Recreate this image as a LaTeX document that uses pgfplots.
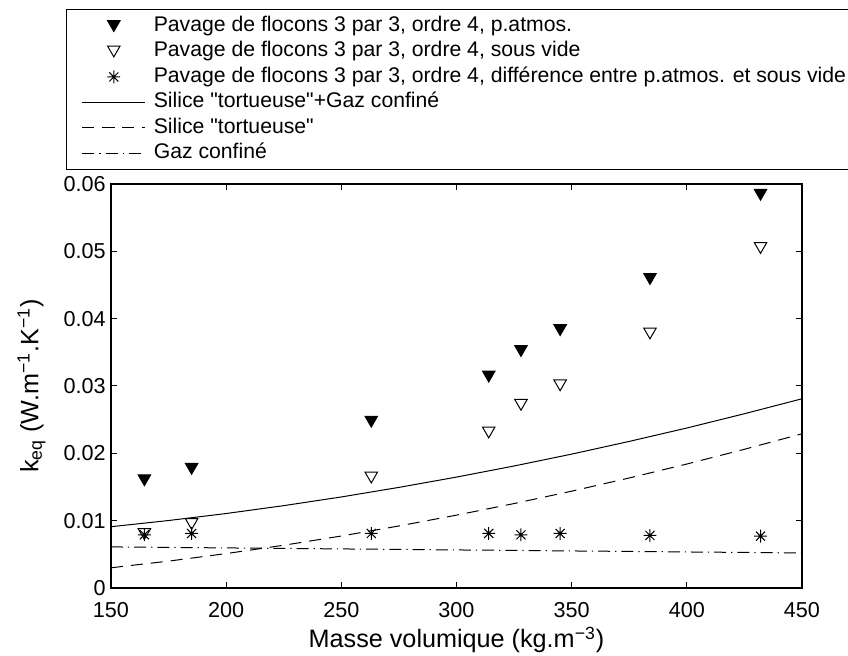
\documentclass[border=0pt]{standalone}
\usepackage{fontspec}
\setmainfont{Liberation Sans}
\newfontfamily\plainfont{Liberation Sans}
\usepackage{pgfplots}
\pgfplotsset{compat=1.18}
\pgfdeclareplotmark{ast8}{%
 \pgfpathmoveto{\pgfqpoint{0pt}{\pgfplotmarksize}}\pgfpathlineto{\pgfqpoint{0pt}{-\pgfplotmarksize}}%
 \pgfpathmoveto{\pgfqpoint{\pgfplotmarksize}{0pt}}\pgfpathlineto{\pgfqpoint{-\pgfplotmarksize}{0pt}}%
 \pgfpathmoveto{\pgfqpoint{0.7071\pgfplotmarksize}{0.7071\pgfplotmarksize}}\pgfpathlineto{\pgfqpoint{-0.7071\pgfplotmarksize}{-0.7071\pgfplotmarksize}}%
 \pgfpathmoveto{\pgfqpoint{0.7071\pgfplotmarksize}{-0.7071\pgfplotmarksize}}\pgfpathlineto{\pgfqpoint{-0.7071\pgfplotmarksize}{0.7071\pgfplotmarksize}}%
 \pgfusepathqstroke}
\begin{document}
\begin{tikzpicture}
\useasboundingbox (-55.5pt,-34pt) rectangle (368.5pt,294pt);
\begin{axis}[
 name=ax, at={(0,0)}, anchor=south west,
 scale only axis, width=345.5pt, height=202pt,
 xmin=150, xmax=450, ymin=0, ymax=0.06,
 xtick={150,200,250,300,350,400,450},
 xticklabels={150,200,250,300,350,400,450},
 ytick={0,0.01,0.02,0.03,0.04,0.05,0.06},
 yticklabels={0,0.01,0.02,0.03,0.04,0.05,0.06},
 scaled y ticks=false,
 /pgf/number format/assume math mode=true,
 tick align=inside, major tick length=3pt,
 tick style={black, line width=0.5pt},
 axis line style={line width=0.6pt},
 ticklabel style={font=\fontsize{10.8}{12}\selectfont},
 xticklabel style={inner sep=0pt, anchor=north, yshift=-7pt},
 yticklabel style={inner sep=0pt, anchor=east, xshift=-2.5pt},
 xlabel={Masse volumique (kg.m\textsuperscript{−3})},
 xlabel style={font=\fontsize{12.6}{14}\selectfont, at={(axis description cs:0.5,-0.1485)}, anchor=base},
 ylabel={k\textsubscript{eq} (W.m\textsuperscript{−1}.K\textsuperscript{−1})},
 ylabel style={font=\fontsize{12.6}{14}\selectfont, at={(axis description cs:-0.1150,0.5)}, anchor=center},
 legend image code/.code={%
   \path (0pt,0pt) (40.5pt,0pt);
   \draw[mark repeat=2,mark phase=2,#1] plot coordinates {(6pt,0pt)(21.75pt,0pt)(37.5pt,0pt)};},
 legend cell align=left,
 legend style={at={(axis description cs:-0.0648,1.4332)}, anchor=north west,
   draw=black, line width=0.6pt, inner xsep=1.5pt, inner ysep=3.15pt,
   font=\fontsize{10.6}{12}\selectfont,
   nodes={inner sep=0pt, text height=7.8pt, text depth=2.4pt},
   row sep=2.5pt, column sep=1pt},
]
\addplot[only marks, line width=0.5pt, mark=triangle*, mark size=3.6pt,
  mark options={draw=black, fill=black, rotate=180, yshift=-0.9pt}]
 coordinates {(164.5,0.0160) (185,0.0177) (263,0.0247) (314,0.0314) (328,0.0352) (345,0.0383) (384,0.0459) (432,0.0584)};
\addlegendentry{Pavage de flocons 3 par 3, ordre 4, p.atmos.}
\addplot[only marks, line width=0.5pt, mark=triangle, mark size=3.6pt,
  mark options={draw=black, rotate=180, yshift=-0.9pt}]
 coordinates {(164.5,0.0080) (185,0.0095) (263,0.0164) (314,0.0231) (328,0.0272) (345,0.0301) (384,0.0378) (432,0.0505)};
\addlegendentry{Pavage de flocons 3 par 3, ordre 4, sous vide}
\addplot[only marks, line width=0.5pt, mark=ast8, mark size=3.2pt, mark options={draw=black}]
 coordinates {(164.5,0.0079) (185,0.0081) (263,0.0081) (314,0.0081) (328,0.0079) (345,0.0081) (384,0.0078) (432,0.0077)};
\addlegendentry{Pavage de flocons 3 par 3, ordre 4, différence entre p.atmos. et sous vide}
\addplot[black, line width=0.5pt] coordinates {
 (150,0.00910) (175,0.01002) (200,0.01106) (225,0.01223) (250,0.01352) (275,0.01494) (300,0.01647)
 (325,0.01812) (350,0.01988) (375,0.02177) (400,0.02376) (425,0.02588) (450,0.02810)};
\addlegendentry{{\plainfont Silice "tortueuse"+Gaz confiné}}
\addplot[black, line width=0.5pt, dash pattern=on 6pt off 4pt] coordinates {
 (150,0.00300) (175,0.00399) (200,0.00511) (225,0.00635) (250,0.00772) (275,0.00921) (300,0.01082)
 (325,0.01254) (350,0.01438) (375,0.01634) (400,0.01841) (425,0.02060) (450,0.02290)};
\addlegendentry{{\plainfont Silice "tortueuse"}}
\addplot[black, line width=0.5pt, dash pattern=on 6pt off 2.5pt on 0.6pt off 2.5pt] coordinates {
 (150,0.00610) (175,0.00603) (200,0.00595) (225,0.00588) (250,0.00580) (275,0.00573) (300,0.00565)
 (325,0.00558) (350,0.00550) (375,0.00543) (400,0.00535) (425,0.00528) (450,0.00520)};
\addlegendentry{Gaz confiné}
\end{axis}
\end{tikzpicture}
\end{document}
